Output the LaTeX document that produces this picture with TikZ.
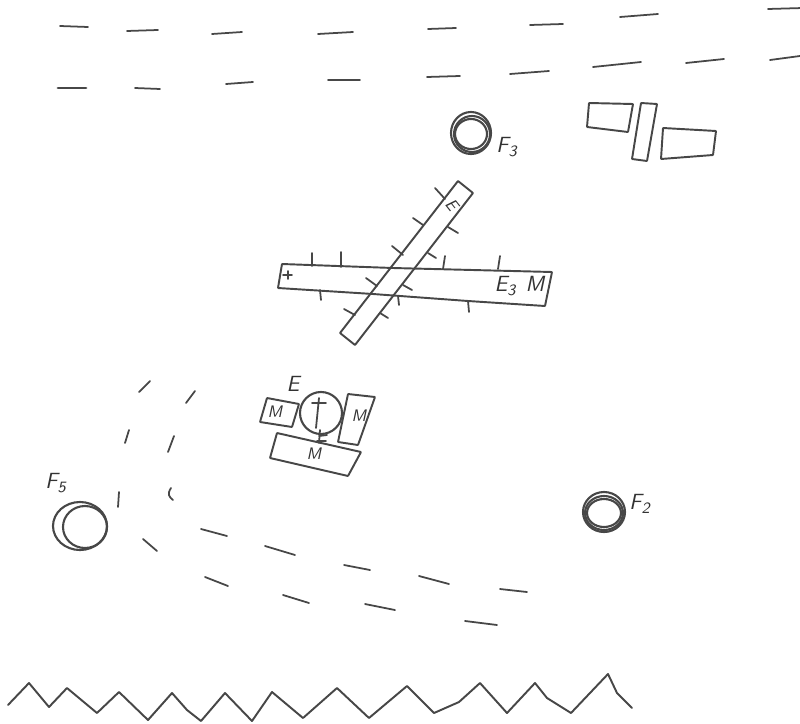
\documentclass[tikz,border=0pt]{standalone}
\usepackage{tikz}
\tikzset{
  pen/.style={draw=black!72, line width=1.1pt, line cap=round, line join=round},
  box/.style={pen, rounded corners=0.3pt},
  ticker/.style={pen, line width=1pt},
  dashpen/.style={pen, line width=1pt},
  ring/.style={pen, line width=1.2pt},
  lab/.style={font=\sffamily\itshape\fontsize{12.5}{13}\selectfont, text=black!80, inner sep=0pt},
  labsmall/.style={font=\sffamily\itshape\fontsize{9.5}{10}\selectfont, text=black!80, inner sep=0pt},
}
\newcommand{\subnum}[1]{\raisebox{-2.5pt}{\fontsize{9}{9}\selectfont #1}}
\begin{document}
\begin{tikzpicture}[x=0.02cm, y=-0.02cm]
  \useasboundingbox (0,0) rectangle (800,723);

  \foreach \xa/\ya/\xb/\yb in {60/26/88/27, 127/31/158/30, 212/34/242/32, 318/34/353/32,
      428/29/456/28, 530/25/563/24, 620/17/658/14, 768/9/803/8,
      135/88/160/89, 226/84/253/82, 328/80/360/80, 427/77/460/76,
      510/74/549/71, 593/67/641/62, 686/63/724/59, 770/60/800/56,
      150/381/139/392, 129/430/125/443, 119/492/118/507, 143/539/157/551,
      201/529/227/536, 265/546/295/555, 344/565/370/570, 419/576/449/584, 500/589/527/592,
      195/391/186/403, 174/436/168/452, 205/577/228/586, 283/595/309/603,
      365/604/395/610, 465/621/497/625}
    \draw[dashpen] (\xa,\ya) -- (\xb,\yb);
  \draw[dashpen, line width=1.6pt] (58,88) -- (86,88);
  \draw[dashpen] (171,488) .. controls (167,494) and (169,497) .. (173,500);

  \draw[box] (282,264) -- (393,268) -- (552,272) -- (545,306) -- (468,301) -- (373,294) -- (278,288) -- cycle;
  \draw[box] (458,181) -- (473,193) -- (355,345) -- (340,333) -- cycle;
  \foreach \xa/\ya/\xb/\yb in {312/266/312/253, 341/267/341/252, 443/269/445/256, 498/269/500/256,
      320/290/321/300, 398/296/399/305, 468/301/469/312,
      445/199/435/188, 423/225/413/218, 403/255/392/246, 377/286/366/278, 355/315/344/309,
      448/227/458/233, 428/253/436/258, 403/285/412/290, 380/313/388/318}
    \draw[ticker] (\xa,\ya) -- (\xb,\yb);
  \draw[ticker] (283,275) -- (292,275) (288,271) -- (288,279);
  \node[labsmall, rotate=-52] (barE) at (452,205) {E};
  \node[lab] (barEthree) at (505,286) {E\subnum{3}};
  \node[lab] (barM) at (535,284) {M};

  \draw[ring] (321,413) circle (21);
  \draw[ticker] (319,398) -- (316,428) (312,403) -- (326,403);
  \draw[ticker] (320,430) -- (319,443) (319,436) -- (327,435) (317,441) -- (326,441);
  \draw[box] (267,398) -- (299,404) -- (292,427) -- (260,422) -- cycle;
  \draw[box] (348,394) -- (375,397) -- (358,445) -- (338,442) -- cycle;
  \draw[box] (277,433) -- (361,452) -- (348,476) -- (270,458) -- cycle;
  \node[lab] (engE) at (293,384) {E};
  \node[labsmall] (leftM) at (275,412) {M};
  \node[labsmall] (rightM) at (359,416) {M};
  \node[labsmall] (lowM) at (314,454) {M};

  \draw[ring] (471,133) ellipse (20 and 21);
  \draw[ring] (472,134) ellipse (18 and 18);
  \draw[ring] (471,134) ellipse (16 and 15);
  \node[lab, anchor=west] (fthree) at (496,147) {F\subnum{3}};

  \draw[ring] (604,512) ellipse (21 and 20);
  \draw[ring] (604,513) ellipse (19 and 17);
  \draw[ring] (604,513) ellipse (17 and 14);
  \node[lab, anchor=west] (ftwo) at (629,504) {F\subnum{2}};

  \draw[ring] (80,526) ellipse (27 and 24);
  \draw[ring] (85,527) ellipse (22 and 21);
  \node[lab, anchor=west] (ffive) at (45,483) {F\subnum{5}};

  \draw[box] (589,103) -- (633,104) -- (628,132) -- (587,127) -- cycle;
  \draw[box] (641,103) -- (657,104) -- (647,161) -- (632,159) -- cycle;
  \draw[box] (663,128) -- (716,131) -- (713,155) -- (661,159) -- cycle;

  \draw[pen] (8,705) -- (29,683) -- (49,707) -- (67,688) -- (97,713) -- (119,692) -- (148,720)
    -- (172,693) -- (187,710) -- (201,721) -- (225,693) -- (252,721) -- (272,692) -- (303,718)
    -- (337,688) -- (369,718) -- (407,686) -- (434,713) -- (459,702) -- (480,683) -- (507,713)
    -- (535,683) -- (547,698) -- (571,713) -- (608,674) -- (617,693) -- (632,708);
\end{tikzpicture}
\end{document}
